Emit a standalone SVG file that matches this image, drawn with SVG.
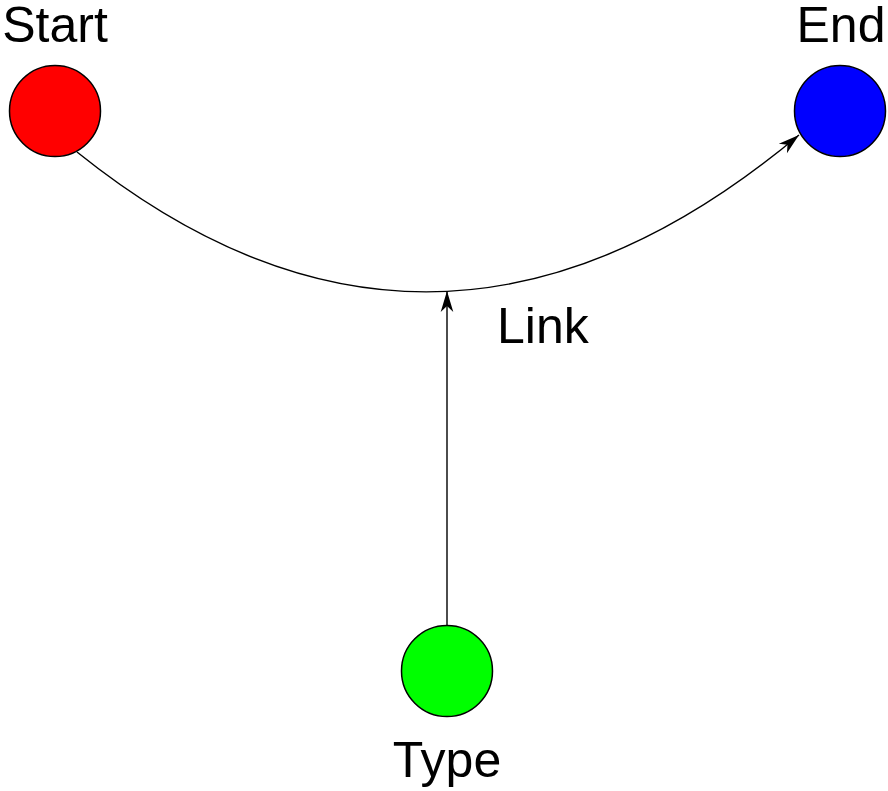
<svg xmlns="http://www.w3.org/2000/svg" width="888" height="791" viewBox="0 0 888 791">
<style>
.node circle{stroke:#000;stroke-width:1.5}
.label{font-family:"Liberation Sans",Arial,sans-serif;font-size:50px;fill:#000}
.edge{fill:none;stroke:#000;stroke-width:1.4;marker-end:url(#arrow)}
</style>
<defs>
<marker id="arrow" markerUnits="userSpaceOnUse" viewBox="-22 -7 23 14" markerWidth="23" markerHeight="14" refX="0" refY="0" orient="auto">
<path d="M0,0 L-21,-6.3 L-15,0 L-21,6.3 Z" fill="#000"/>
</marker>
</defs>
<rect width="888" height="791" fill="#fff"/>
<g id="connectors">
<path class="edge" d="M77,152 Q435,440 799,135"/>
<path class="edge" d="M447,625.5 L447,291"/>
</g>
<text class="label" x="497" y="343">Link</text>
<g id="start" class="node">
<circle cx="55" cy="111" r="45.5" fill="#ff0000"/>
<text class="label" x="55" y="42" text-anchor="middle">Start</text>
</g>
<g id="end" class="node">
<circle cx="840" cy="111" r="45.5" fill="#0000ff"/>
<text class="label" x="841" y="42" text-anchor="middle">End</text>
</g>
<g id="type" class="node">
<circle cx="447" cy="671" r="45.5" fill="#00ff00"/>
<text class="label" x="447" y="777" text-anchor="middle">Type</text>
</g>
</svg>
